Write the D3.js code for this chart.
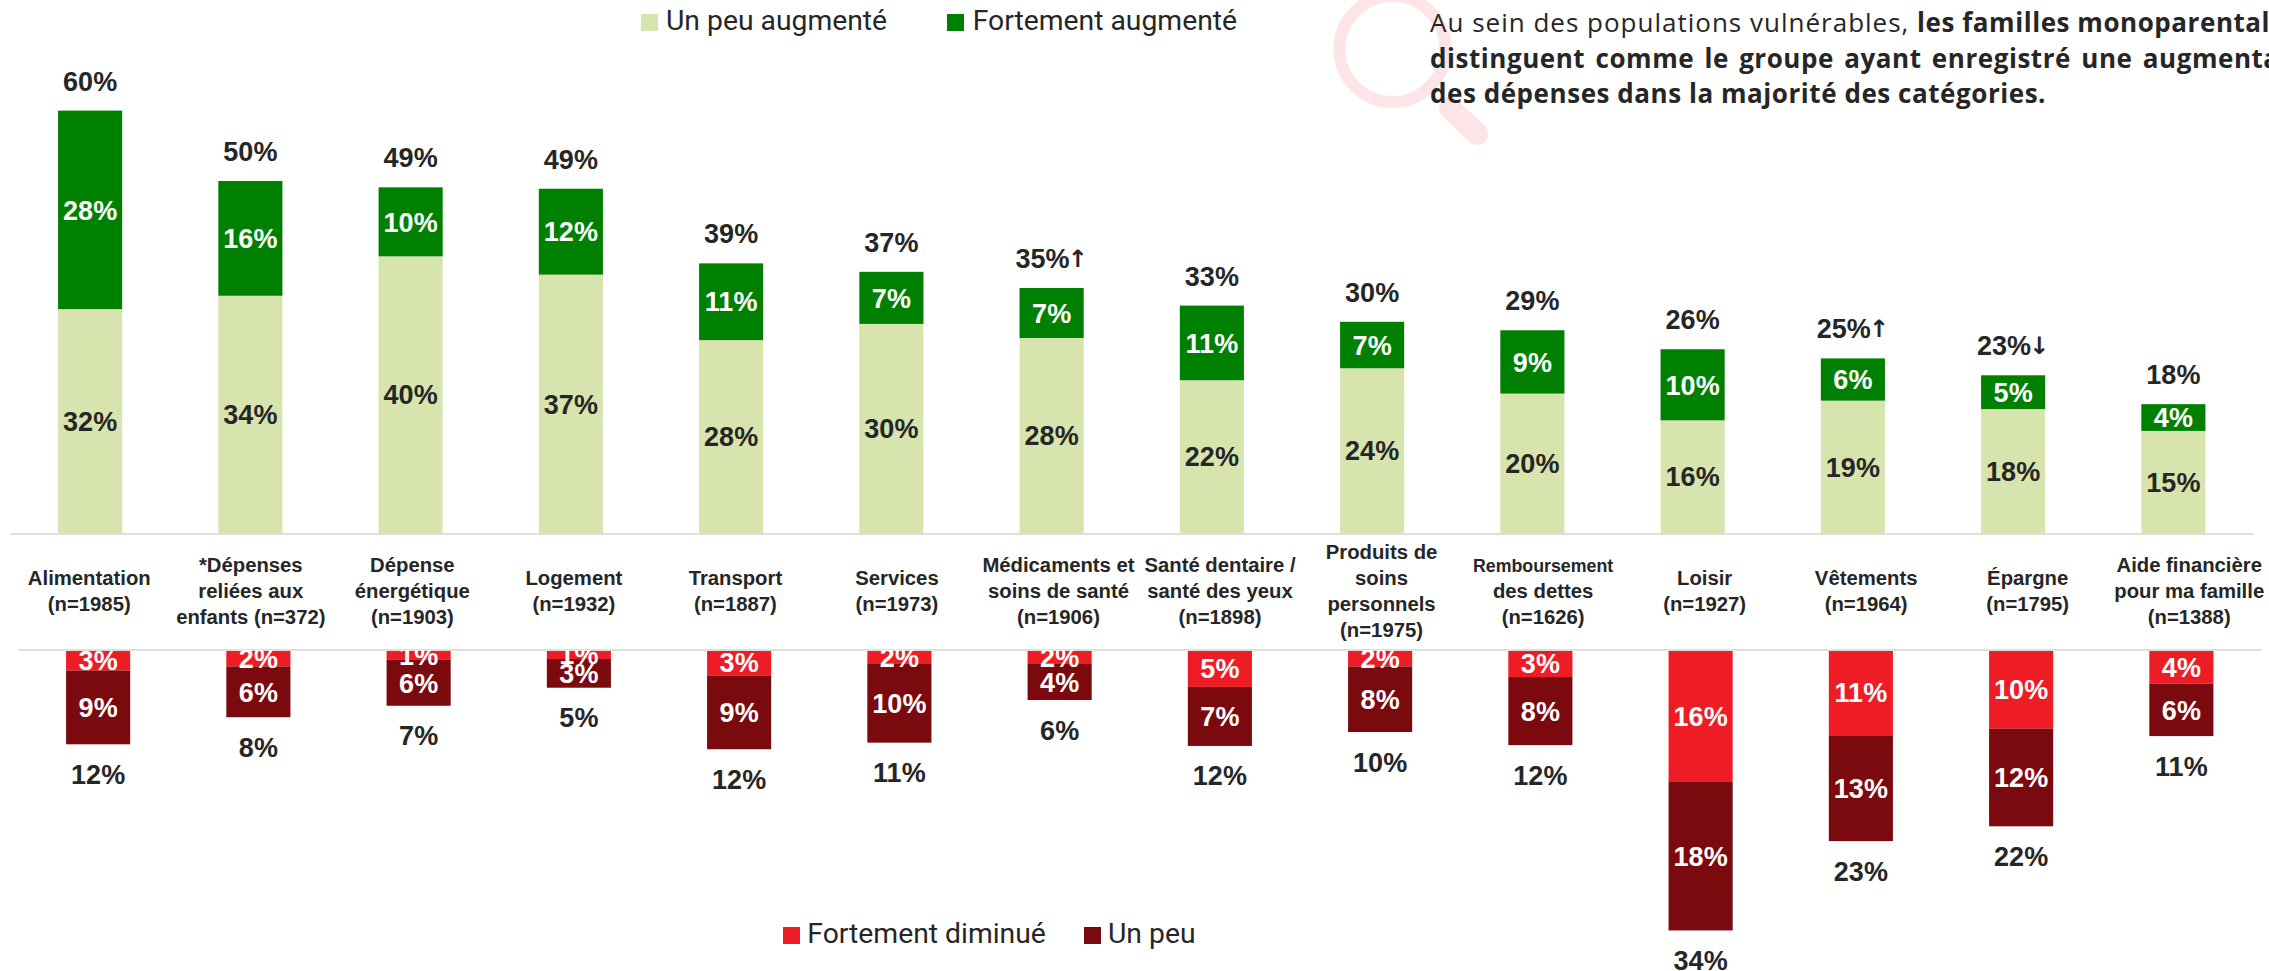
<!DOCTYPE html>
<html lang="fr">
<head>
<meta charset="utf-8">
<script src="https://cdn.jsdelivr.net/npm/d3@7/dist/d3.min.js"></script>
<style>
html,body{margin:0;padding:0;background:#fff;overflow:hidden}
svg{display:block}
</style>
</head>
<body>
<svg id="chart" width="2269" height="971"></svg>
<script>
const categories = [
  ["Alimentation","(n=1985)"],
  ["*Dépenses","reliées aux","enfants (n=372)"],
  ["Dépense","énergétique","(n=1903)"],
  ["Logement","(n=1932)"],
  ["Transport","(n=1887)"],
  ["Services","(n=1973)"],
  ["Médicaments et","soins de santé","(n=1906)"],
  ["Santé dentaire /","santé des yeux","(n=1898)"],
  ["Produits de","soins","personnels","(n=1975)"],
  ["Remboursement","des dettes","(n=1626)"],
  ["Loisir","(n=1927)"],
  ["Vêtements","(n=1964)"],
  ["Épargne","(n=1795)"],
  ["Aide financière","pour ma famille","(n=1388)"]
];
const unPeuAugmente     = [31.8,33.7,39.3,36.7,27.4,29.7,27.7,21.7,23.4,19.8,16.0,18.8,17.6,14.5];
const fortementAugmente = [28.2,16.3, 9.8,12.2,10.9, 7.4, 7.1,10.6, 6.6, 9.0,10.1, 6.0, 4.8, 3.8];
const fortementDiminue  = [ 2.5, 2.0, 1.2, 1.1, 3.1, 1.7, 1.7, 4.5, 2.0, 3.3,16.1,10.4, 9.6, 4.1];
const unPeuDiminue      = [ 9.0, 6.2, 5.6, 3.5, 9.0, 9.6, 4.4, 7.2, 8.0, 8.3,18.1,12.9,11.9, 6.4];

const lblUnPeuAug  = [32,34,40,37,28,30,28,22,24,20,16,19,18,15];
const lblFortAug   = [28,16,10,12,11, 7, 7,11, 7, 9,10, 6, 5, 4];
const lblTotalAug  = [60,50,49,49,39,37,35,33,30,29,26,25,23,18];
const lblFortDim   = [ 3, 2, 1, 1, 3, 2, 2, 5, 2, 3,16,11,10, 4];
const lblUnPeuDim  = [ 9, 6, 6, 3, 9,10, 4, 7, 8, 8,18,13,12, 6];
const lblTotalDim  = [12, 8, 7, 5,12,11, 6,12,10,12,34,23,22,11];
const arrows       = ["","","","","","","↑","","","","","↑","↓",""];

const C = {light:"#D7E4AE", green:"#008000", red:"#EE1C25", dark:"#7B0A0E", text:"#262626", rule:"#DEDEDE", pink:"#FDE5E7"};
const F_NUM = "'Liberation Sans', Arial, sans-serif";
const F_LEG = "Roboto, 'Noto Sans', sans-serif";
const F_NOTE = "'Open Sans', 'Noto Sans', sans-serif";

const svg = d3.select("#chart");
const idx = d3.range(categories.length);

const xTop = d3.scaleBand().domain(idx).range([10,2253.5]).paddingInner(0.6).paddingOuter(0.3);
const xBot = d3.scaleBand().domain(idx).range([18,2261.5]).paddingInner(0.6).paddingOuter(0.3);
const xCat = d3.scaleBand().domain(idx).range([8.5,2270]);
const yTop = d3.scaleLinear().domain([0,60]).range([533,110.6]);
const yBot = d3.scaleLinear().domain([0,34]).range([650,928.8]);

// magnifier decoration
const deco = svg.append("g").attr("fill","none").attr("stroke",C.pink);
deco.append("circle").attr("cx",1392.5).attr("cy",49).attr("r",53).attr("stroke-width",12);
deco.append("line").attr("x1",1450).attr("y1",108).attr("x2",1477).attr("y2",134)
  .attr("stroke-width",22).attr("stroke-linecap","round");

// clip for the lower panel
svg.append("defs").append("clipPath").attr("id","lowerClip")
  .append("rect").attr("x",0).attr("y",650).attr("width",2269).attr("height",321);

function numLabels(g, data, xs, ys, fill, fmt){
  return g.selectAll(null).data(data).join("text")
    .attr("x",xs).attr("y",ys).attr("text-anchor","middle")
    .attr("font-family",F_NUM).attr("font-weight",700).attr("font-size",27)
    .attr("fill",fill).text(fmt);
}

// upper panel
const up = svg.append("g");
up.selectAll(null).data(idx).join("rect")
  .attr("x",i=>xTop(i)).attr("width",xTop.bandwidth())
  .attr("y",i=>yTop(unPeuAugmente[i])).attr("height",i=>yTop(0)-yTop(unPeuAugmente[i]))
  .attr("fill",C.light);
up.selectAll(null).data(idx).join("rect")
  .attr("x",i=>xTop(i)).attr("width",xTop.bandwidth())
  .attr("y",i=>yTop(unPeuAugmente[i]+fortementAugmente[i]))
  .attr("height",i=>yTop(unPeuAugmente[i])-yTop(unPeuAugmente[i]+fortementAugmente[i]))
  .attr("fill",C.green);
const cx = i=>xTop(i)+xTop.bandwidth()/2;
numLabels(up,idx,cx,i=>yTop(unPeuAugmente[i]/2)+9.7,C.text,i=>lblUnPeuAug[i]+"%");
numLabels(up,idx,cx,i=>yTop(unPeuAugmente[i]+fortementAugmente[i]/2)+9.7,"#fff",i=>lblFortAug[i]+"%");
const tot = numLabels(up,idx,cx,i=>yTop(unPeuAugmente[i]+fortementAugmente[i])-20,C.text,i=>lblTotalAug[i]+"%");
tot.filter(i=>arrows[i]).append("tspan").attr("font-size",24).attr("font-family","'DejaVu Sans',sans-serif")
   .attr("font-weight",700).attr("dx",-2).attr("dy",-1).text(i=>arrows[i]);

// rules
svg.append("line").attr("x1",xTop.range()[0]).attr("x2",xTop.range()[1]).attr("y1",534).attr("y2",534)
  .attr("stroke",C.rule).attr("stroke-width",2);
svg.append("line").attr("x1",xBot.range()[0]).attr("x2",xBot.range()[1]).attr("y1",650).attr("y2",650)
  .attr("stroke",C.rule).attr("stroke-width",2);

// lower panel
const low = svg.append("g").attr("clip-path","url(#lowerClip)");
low.selectAll(null).data(idx).join("rect")
  .attr("x",i=>xBot(i)).attr("width",xBot.bandwidth())
  .attr("y",yBot(0)+1).attr("height",i=>yBot(fortementDiminue[i])-yBot(0)-1)
  .attr("fill",C.red);
low.selectAll(null).data(idx).join("rect")
  .attr("x",i=>xBot(i)).attr("width",xBot.bandwidth())
  .attr("y",i=>yBot(fortementDiminue[i]))
  .attr("height",i=>yBot(fortementDiminue[i]+unPeuDiminue[i])-yBot(fortementDiminue[i]))
  .attr("fill",C.dark);
const cxb = i=>xBot(i)+xBot.bandwidth()/2;
numLabels(low,idx,cxb,i=>yBot(fortementDiminue[i]/2)+9.7,"#fff",i=>lblFortDim[i]+"%");
numLabels(low,idx,cxb,i=>yBot(fortementDiminue[i]+unPeuDiminue[i]/2)+9.7,"#fff",i=>lblUnPeuDim[i]+"%");
numLabels(low,idx,cxb,i=>yBot(fortementDiminue[i]+unPeuDiminue[i])+39.5,C.text,i=>lblTotalDim[i]+"%");

// category labels
const LH = 25.8, MID = 598;
const cat = svg.append("g").selectAll(null).data(idx).join("text")
  .attr("text-anchor","middle").attr("font-family",F_NUM).attr("font-weight",700)
  .attr("font-size",20.3).attr("fill",C.text);
cat.each(function(i){
  const lines = categories[i], t = d3.select(this);
  const first = MID - (lines.length-1)*LH/2;
  lines.forEach((s,k)=>{
    t.append("tspan").attr("x",xCat(i)+xCat.bandwidth()/2).attr("y",first+k*LH)
     .attr("font-size",s==="Remboursement"?17.8:null).text(s);
  });
});

// legends
const legends = [
  {sw:641, y:14, color:C.light, tx:666, by:30, label:"Un peu augmenté"},
  {sw:947, y:14, color:C.green, tx:972.7, by:30, label:"Fortement augmenté"},
  {sw:783, y:927, color:C.red, tx:807.3, by:943, label:"Fortement diminué"},
  {sw:1084, y:927, color:C.dark, tx:1108, by:943, label:"Un peu"}
];
const lg = svg.append("g");
lg.selectAll(null).data(legends).join("rect")
  .attr("x",d=>d.sw).attr("y",d=>d.y).attr("width",17).attr("height",17).attr("fill",d=>d.color);
lg.selectAll(null).data(legends).join("text")
  .attr("x",d=>d.tx).attr("y",d=>d.by).attr("font-family",F_LEG).attr("font-size",28.3)
  .attr("fill",C.text).text(d=>d.label);

// annotation
const note = svg.append("g").attr("font-family",F_NOTE).attr("font-size",26).attr("fill",C.text);
const l1 = note.append("text").attr("x",1430).attr("y",31.7);
l1.append("tspan").attr("letter-spacing",1).text("Au sein des populations vulnérables, ");
l1.append("tspan").attr("font-weight",700).attr("letter-spacing",0.55).text("les familles monoparentales se");
note.append("text").attr("x",1430).attr("y",67.7).attr("font-weight",700).attr("letter-spacing",0.55).attr("word-spacing",3)
  .text("distinguent comme le groupe ayant enregistré une augmentation");
note.append("text").attr("x",1430).attr("y",102.5).attr("font-weight",700).attr("letter-spacing",0.55)
  .text("des dépenses dans la majorité des catégories.");
</script>
</body>
</html>
